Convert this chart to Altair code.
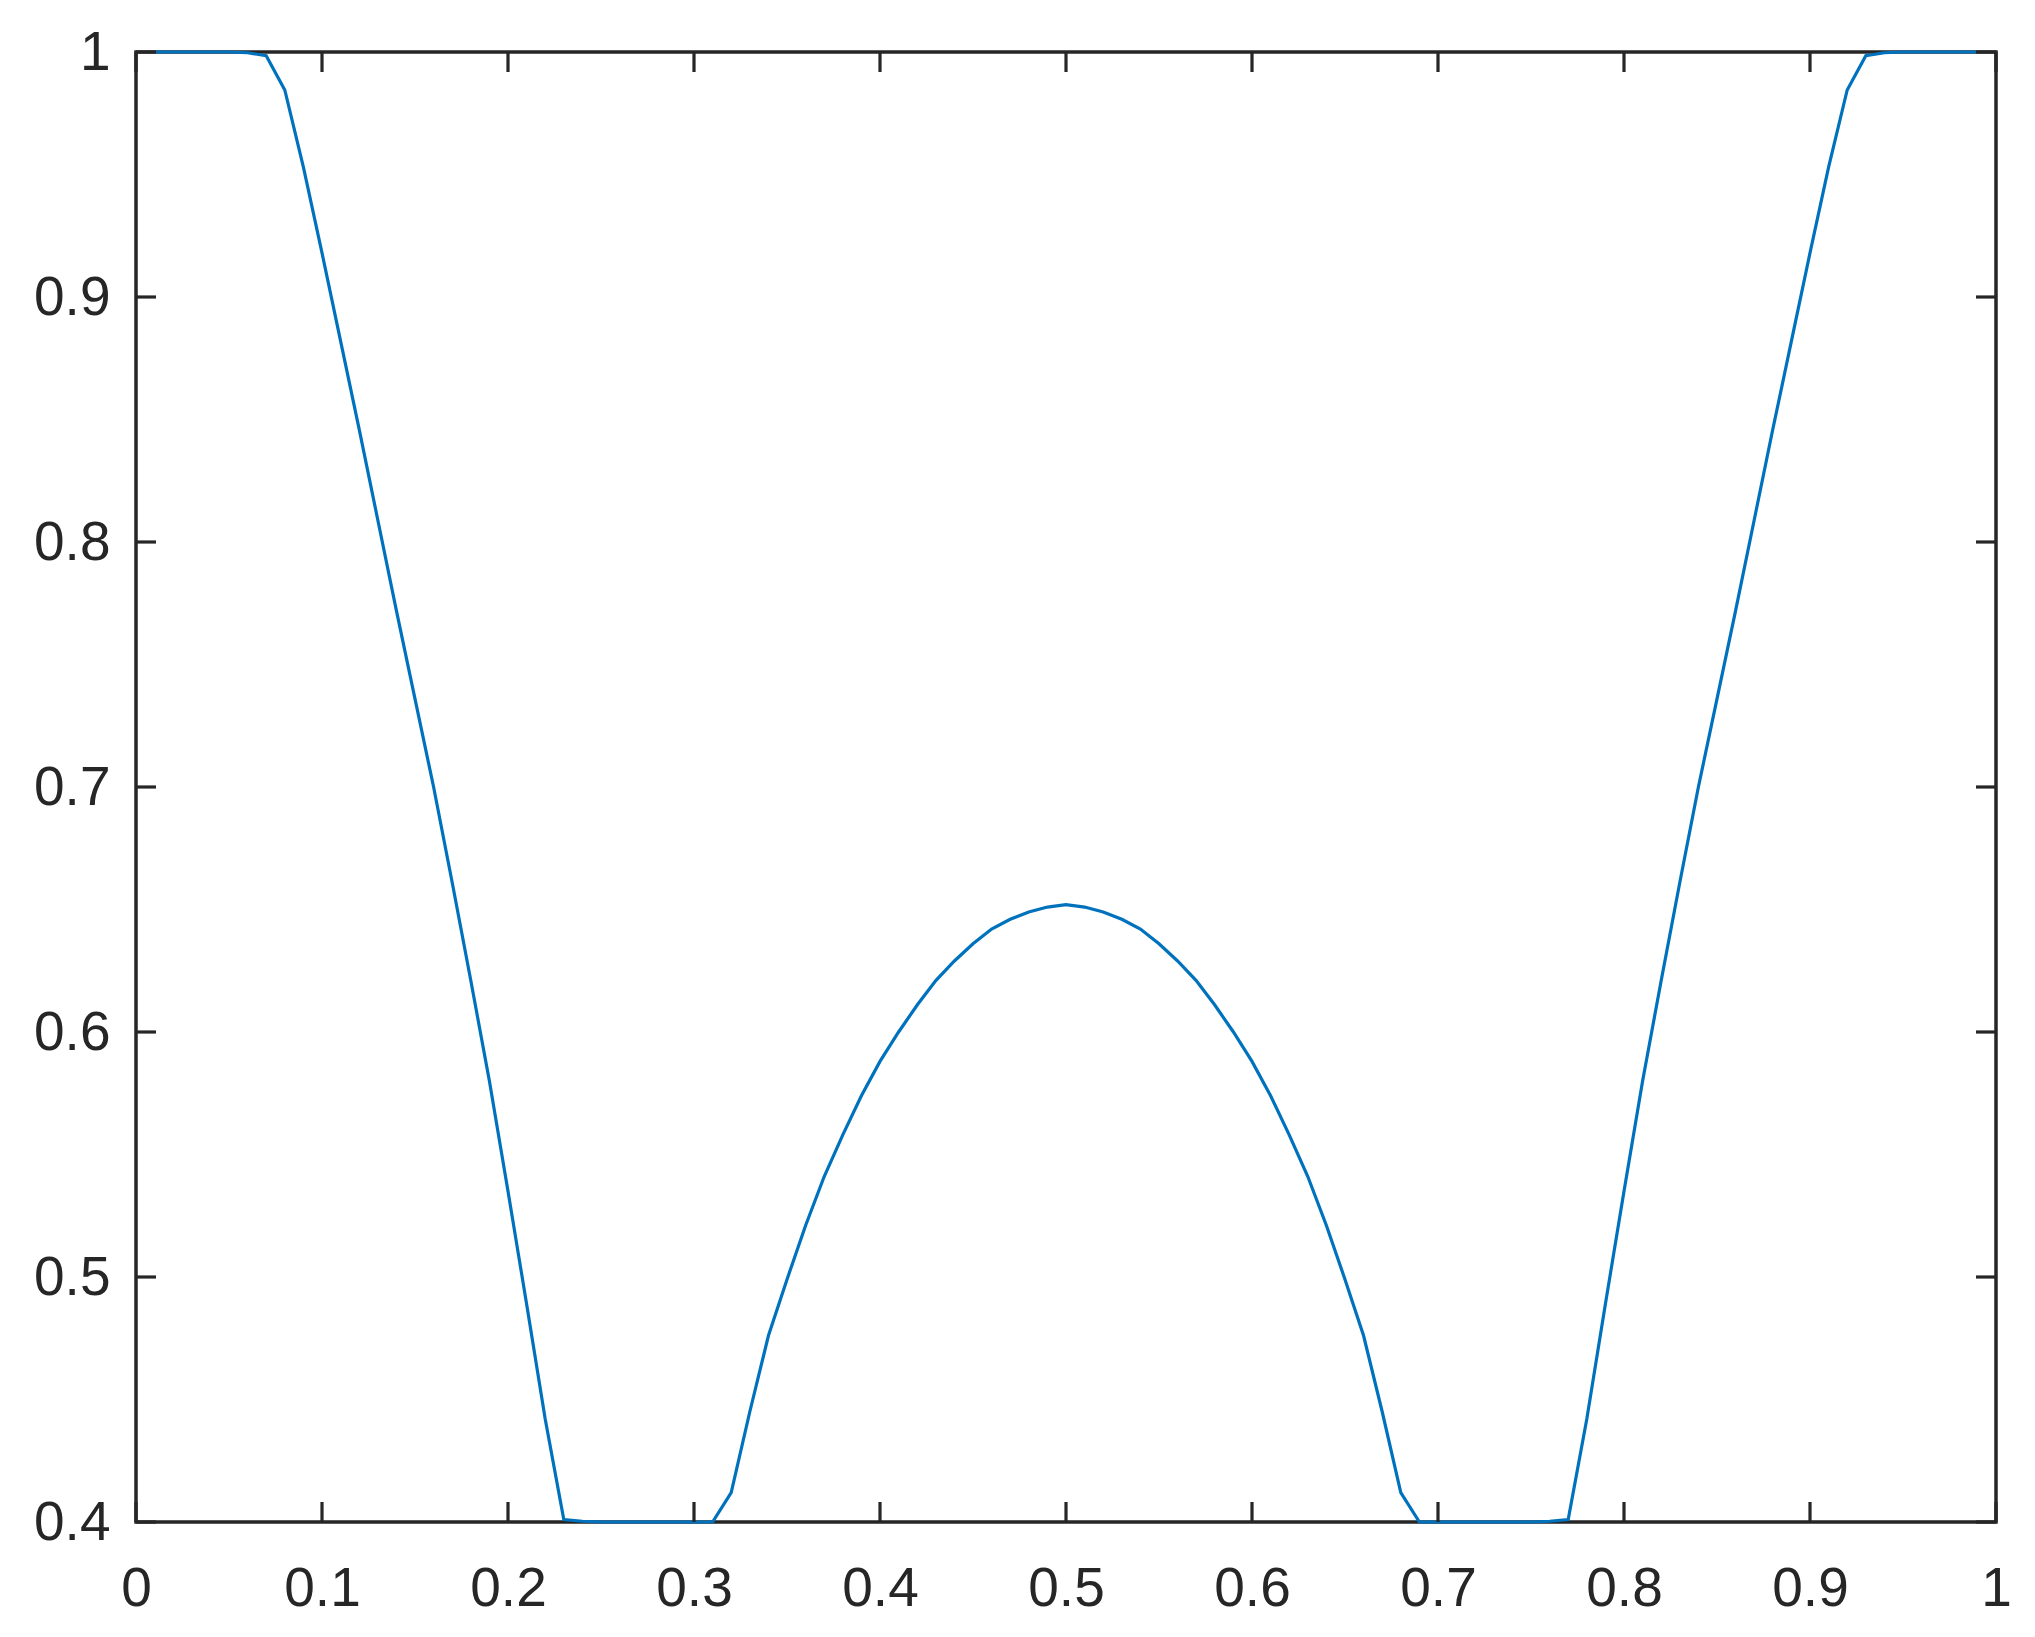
import altair as alt
import pandas as pd

# x positions of the samples
x_vals = [0.01, 0.02, 0.03, 0.04, 0.05, 0.06, 0.07, 0.08, 0.09, 0.10,
          0.11, 0.12, 0.13, 0.14, 0.15, 0.16, 0.17, 0.18, 0.19, 0.20,
          0.21, 0.22, 0.23, 0.24, 0.25, 0.26, 0.27, 0.28, 0.29, 0.30,
          0.31, 0.32, 0.33, 0.34, 0.35, 0.36, 0.37, 0.38, 0.39, 0.40,
          0.41, 0.42, 0.43, 0.44, 0.45, 0.46, 0.47, 0.48, 0.49, 0.50,
          0.51, 0.52, 0.53, 0.54, 0.55, 0.56, 0.57, 0.58, 0.59, 0.60,
          0.61, 0.62, 0.63, 0.64, 0.65, 0.66, 0.67, 0.68, 0.69, 0.70,
          0.71, 0.72, 0.73, 0.74, 0.75, 0.76, 0.77, 0.78, 0.79, 0.80,
          0.81, 0.82, 0.83, 0.84, 0.85, 0.86, 0.87, 0.88, 0.89, 0.90,
          0.91, 0.92, 0.93, 0.94, 0.95, 0.96, 0.97, 0.98, 0.99]

# values
y_vals = [1.0, 1.0, 1.0, 1.0, 1.0, 0.9997, 0.9985, 0.9845, 0.953, 0.918,
          0.882, 0.846, 0.809, 0.772, 0.736, 0.700, 0.661, 0.621, 0.580, 0.535,
          0.489, 0.442, 0.401, 0.4003, 0.4, 0.4, 0.4, 0.4, 0.4, 0.4,
          0.4, 0.412, 0.445, 0.476, 0.499, 0.521, 0.541, 0.558, 0.574, 0.588,
          0.600, 0.611, 0.621, 0.629, 0.636, 0.642, 0.646, 0.649, 0.651, 0.652,
          0.651, 0.649, 0.646, 0.642, 0.636, 0.629, 0.621, 0.611, 0.600, 0.588,
          0.574, 0.558, 0.541, 0.521, 0.499, 0.476, 0.445, 0.412, 0.4, 0.4,
          0.4, 0.4, 0.4, 0.4, 0.4, 0.4003, 0.401, 0.442, 0.489, 0.535,
          0.580, 0.621, 0.661, 0.700, 0.736, 0.772, 0.809, 0.846, 0.882, 0.918,
          0.953, 0.9845, 0.9985, 0.9997, 1.0, 1.0, 1.0, 1.0, 1.0]

x_ticks = [0, 0.1, 0.2, 0.3, 0.4, 0.5, 0.6, 0.7, 0.8, 0.9, 1]
y_ticks = [0.4, 0.5, 0.6, 0.7, 0.8, 0.9, 1]

W, H = 1860, 1470
TL = 20
AX = "#262626"
FONT = "Liberation Sans"
FS = 55

df = pd.DataFrame({"x": x_vals, "y": y_vals})
xt = pd.DataFrame({"t": x_ticks})
yt = pd.DataFrame({"t": y_ticks})

xscale = alt.Scale(domain=[0, 1], nice=False, zero=False)
yscale = alt.Scale(domain=[0.4, 1], nice=False, zero=False)

xaxis = alt.Axis(values=x_ticks, format="~g", title=None, ticks=False, tickSize=0,
                 grid=False, domain=False, labelFont=FONT, labelFontSize=FS,
                 labelColor=AX, labelPadding=40, labelFlush=False)
yaxis = alt.Axis(values=y_ticks, format="~g", title=None, ticks=False, tickSize=0,
                 grid=False, domain=False, labelFont=FONT, labelFontSize=FS,
                 labelColor=AX, labelPadding=26, labelFlush=False)

line = alt.Chart(df).mark_line(color="#0072BD", strokeWidth=3.2).encode(
    x=alt.X("x:Q", scale=xscale, axis=xaxis),
    y=alt.Y("y:Q", scale=yscale, axis=yaxis),
)

tick_style = dict(color=AX, strokeWidth=3.2)

bottom_ticks = alt.Chart(xt).mark_rule(**tick_style).encode(
    x=alt.X("t:Q", scale=xscale, axis=xaxis),
    y=alt.value(H), y2=alt.value(H - TL),
)
top_ticks = alt.Chart(xt).mark_rule(**tick_style).encode(
    x=alt.X("t:Q", scale=xscale, axis=xaxis),
    y=alt.value(0), y2=alt.value(TL),
)
left_ticks = alt.Chart(yt).mark_rule(**tick_style).encode(
    y=alt.Y("t:Q", scale=yscale, axis=yaxis),
    x=alt.value(0), x2=alt.value(TL),
)
right_ticks = alt.Chart(yt).mark_rule(**tick_style).encode(
    y=alt.Y("t:Q", scale=yscale, axis=yaxis),
    x=alt.value(W), x2=alt.value(W - TL),
)

chart = alt.layer(line, bottom_ticks, top_ticks, left_ticks, right_ticks).properties(
    width=W, height=H,
    autosize=alt.AutoSizeParams(type="none"),
    padding={"left": 128, "top": 44, "right": 30, "bottom": 100},
    background="white",
).configure_view(stroke=AX, strokeWidth=3.5)

chart.save("out.html", embed_options={"renderer": "svg", "actions": False})
